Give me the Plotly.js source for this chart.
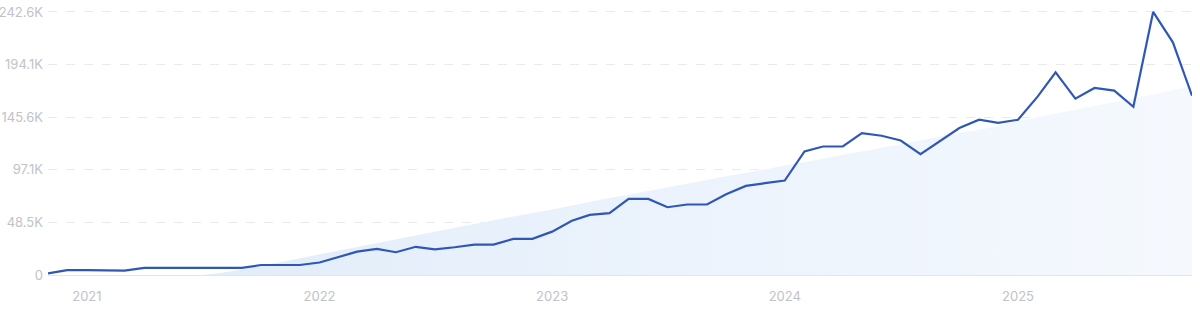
<!DOCTYPE html>
<html>
<head>
<meta charset="utf-8">
<script src="https://cdn.plot.ly/plotly-3.0.1.min.js"></script>
<style>
  html, body { margin: 0; padding: 0; background: #ffffff; }
  #chart { width: 1200px; height: 312px; }
</style>
</head>
<body>
<div id="chart"></div>
<script>
// Monthly dates (Nov 2020 – Oct 2025)
const months = [
  "2020-11-01","2020-12-01",
  "2021-01-01","2021-02-01","2021-03-01","2021-04-01","2021-05-01","2021-06-01",
  "2021-07-01","2021-08-01","2021-09-01","2021-10-01","2021-11-01","2021-12-01",
  "2022-01-01","2022-02-01","2022-03-01","2022-04-01","2022-05-01","2022-06-01",
  "2022-07-01","2022-08-01","2022-09-01","2022-10-01","2022-11-01","2022-12-01",
  "2023-01-01","2023-02-01","2023-03-01","2023-04-01","2023-05-01","2023-06-01",
  "2023-07-01","2023-08-01","2023-09-01","2023-10-01","2023-11-01","2023-12-01",
  "2024-01-01","2024-02-01","2024-03-01","2024-04-01","2024-05-01","2024-06-01",
  "2024-07-01","2024-08-01","2024-09-01","2024-10-01","2024-11-01","2024-12-01",
  "2025-01-01","2025-02-01","2025-03-01","2025-04-01","2025-05-01","2025-06-01",
  "2025-07-01","2025-08-01","2025-09-01","2025-10-01"
];

// Main series, thousands
const volumeK = [
  1.5, 4.5,
  4.5, 4.5, 4.0, 6.5, 6.5, 6.5,
  6.5, 6.5, 6.5, 9.2, 9.2, 9.2,
  11.5, 16.6, 21.5, 24.0, 21.0, 26.0,
  23.7, 25.6, 28.0, 28.0, 33.3, 33.3,
  40.0, 50.0, 55.4, 57.0, 70.2, 70.2,
  62.5, 65.0, 65.0, 74.5, 82.2, 84.7,
  87.1, 113.9, 118.5, 118.5, 130.9, 128.4,
  124.0, 111.5, 123.8, 135.5, 143.2, 140.4,
  143.2, 164.7, 186.9, 162.6, 172.5, 170.0,
  155.2, 242.6, 214.6, 165.4
];

// Trend area (from Jul 2021), thousands
const trendMonths = months.slice(8);
const trendK = [
  0, 2, 5, 8.5, 12, 15.5,
  19, 22.5, 26, 29.5, 33, 36.5,
  40, 43.5, 47, 50.5, 54, 57,
  60.5, 64, 67.5, 71, 74, 77.5,
  81, 84, 87.5, 91, 94, 97.5,
  101, 104, 107.5, 111, 114, 117.5,
  121, 124, 127.5, 131, 134, 137.5,
  142, 145.5, 149, 152.5, 156, 159.5,
  163, 166.5, 170.5, 174.5
];

const yTickVals = [0, 48.52, 97.04, 145.56, 194.08, 242.6];
const yTickText = ["0", "48.5K", "97.1K", "145.6K", "194.1K", "242.6K"];
const xTickVals = ["2021-01-01", "2022-01-01", "2023-01-01", "2024-01-01", "2025-01-01"];
const xTickText = ["2021", "2022", "2023", "2024", "2025"];

const traces = [
  {
    type: "scatter",
    mode: "lines",
    x: trendMonths,
    y: trendK,
    fill: "tozeroy",
    line: { width: 0, color: "rgba(0,0,0,0)" },
    fillgradient: {
      type: "horizontal",
      colorscale: [[0, "rgba(226,237,250,1)"], [0.5, "rgba(236,243,252,1)"], [1, "rgba(245,249,254,1)"]]
    },
    hoverinfo: "skip",
    showlegend: false
  },
  {
    type: "scatter",
    mode: "lines",
    x: months,
    y: volumeK,
    line: { color: "#2f58b5", width: 2.2 },
    showlegend: false
  }
];

const layout = {
  width: 1200,
  height: 312,
  margin: { l: 48, r: 8, t: 10, b: 37, pad: 0 },
  paper_bgcolor: "#ffffff",
  plot_bgcolor: "#ffffff",
  font: { family: "Inter, 'Noto Sans', sans-serif", size: 13, color: "#c0c3c9" },
  showlegend: false,
  xaxis: {
    type: "date",
    range: ["2020-11-01", "2025-10-01"],
    tickvals: xTickVals,
    ticktext: xTickText,
    showgrid: false,
    zeroline: false,
    showline: false,
    ticks: "",
    ticklabelstandoff: 12,
    tickfont: { size: 13, color: "#c0c3c9" },
    fixedrange: true
  },
  yaxis: {
    range: [0, 244.4],
    tickvals: yTickVals,
    ticktext: yTickText,
    showgrid: true,
    gridcolor: "#e8eaed",
    griddash: "dash",
    gridwidth: 1,
    zeroline: true,
    zerolinecolor: "#e2e5ea",
    zerolinewidth: 1,
    showline: false,
    ticks: "",
    ticklabelstandoff: 4,
    tickfont: { size: 13, color: "#c0c3c9" },
    fixedrange: true
  }
};

Plotly.newPlot("chart", traces, layout, { displayModeBar: false, staticPlot: true });
</script>
</body>
</html>
